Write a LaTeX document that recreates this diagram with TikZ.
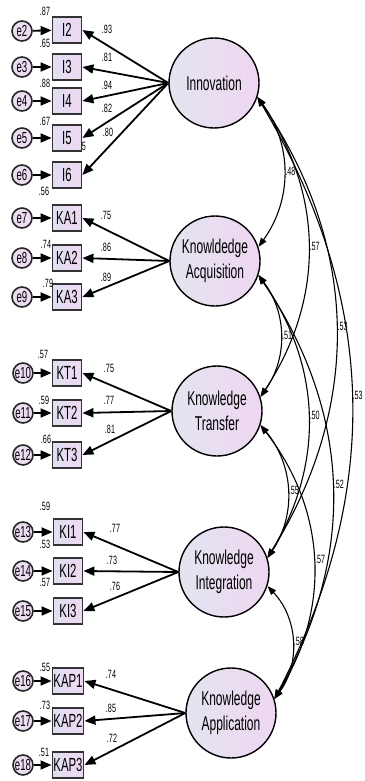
\documentclass[tikz,border=0pt]{standalone}
\usepackage{xcolor}
\usepackage{fontspec}
\setmainfont{Liberation Sans}[FakeStretch=0.6]
\usepackage{tikz}
\usetikzlibrary{arrows.meta,shapes,positioning,calc}

\definecolor{latleft}{RGB}{226,229,240}
\definecolor{latright}{RGB}{239,214,241}
\definecolor{boxleft}{RGB}{226,222,242}
\definecolor{boxright}{RGB}{238,216,242}
\definecolor{errfill}{RGB}{236,221,242}

\tikzset{
    lat/.style={circle, draw=black, line width=1.4pt, minimum size=90pt, inner sep=0pt,
        left color=latleft, right color=latright, align=center, font=\fontsize{20}{25}\selectfont},
    ind/.style={rectangle, draw=black!80, line width=1.8pt, minimum width=29pt, minimum height=26pt,
        inner sep=1pt, left color=boxleft, right color=boxright, font=\fontsize{19}{19}\selectfont},
    err/.style={circle, draw=black!85, line width=1.6pt, minimum size=20pt, inner sep=0pt,
        fill=errfill, font=\fontsize{16}{16}\selectfont},
    num/.style={font=\fontsize{12}{12}\selectfont, inner sep=0pt, text=black},
    load/.style={line width=1.8pt, -{Triangle[length=11pt,width=9pt]}},
    res/.style={line width=1.8pt, -{Triangle[length=11pt,width=9pt]}},
    cov/.style={line width=1.1pt, {Triangle[length=9pt,width=6.5pt]}-{Triangle[length=9pt,width=6.5pt]}}
}

\begin{document}
\begin{tikzpicture}[x=1pt, y=-1pt]
    \useasboundingbox (0,0) rectangle (364,781);

    % latent factors
    \node[lat] (inn) at (214,83) {Innovation};
    \node[lat] (ka) at (215,261) {Knowldedge\\Acquisition};
    \node[lat] (kt) at (217,411) {Knowledge\\Transfer};
    \node[lat] (ki) at (224,572) {Knowledge\\Integration};
    \node[lat] (kap) at (231,713) {Knowledge\\Application};

    % indicators
    \node[ind] (i2) at (67,30) {I2};
    \node[ind] (i3) at (67,67) {I3};
    \node[ind] (i4) at (67,101) {I4};
    \node[ind] (i5) at (67,138) {I5};
    \node[ind] (i6) at (67,175) {I6};
    \node[ind] (ka1) at (67,218) {KA1};
    \node[ind] (ka2) at (67,258) {KA2};
    \node[ind] (ka3) at (67,297) {KA3};
    \node[ind] (kt1) at (67,373) {KT1};
    \node[ind] (kt2) at (67,413) {KT2};
    \node[ind] (kt3) at (67,455) {KT3};
    \node[ind] (ki1) at (68,532) {KI1};
    \node[ind] (ki2) at (68,571) {KI2};
    \node[ind] (ki3) at (68,611) {KI3};
    \node[ind] (kap1) at (68,681) {KAP1};
    \node[ind] (kap2) at (68,721) {KAP2};
    \node[ind] (kap3) at (68,765) {KAP3};

    % errors
    \node[err] (e2) at (22,31) {e2};
    \node[err] (e3) at (22,67) {e3};
    \node[err] (e4) at (22,101) {e4};
    \node[err] (e5) at (22,138) {e5};
    \node[err] (e6) at (22,175) {e6};
    \node[err] (e7) at (22,218) {e7};
    \node[err] (e8) at (22,258) {e8};
    \node[err] (e9) at (22,297) {e9};
    \node[err] (e10) at (23,373) {e10};
    \node[err] (e11) at (23,413) {e11};
    \node[err] (e12) at (23,455) {e12};
    \node[err] (e13) at (23,532) {e13};
    \node[err] (e14) at (23,571) {e14};
    \node[err] (e15) at (23,611) {e15};
    \node[err] (e16) at (23,681) {e16};
    \node[err] (e17) at (23,721) {e17};
    \node[err] (e18) at (23,765) {e18};

    \path[res] (e2) edge (i2) (e3) edge (i3) (e4) edge (i4) (e5) edge (i5) (e6) edge (i6);
    \path[res] (e7) edge (ka1) (e8) edge (ka2) (e9) edge (ka3);
    \path[res] (e10) edge (kt1) (e11) edge (kt2) (e12) edge (kt3);
    \path[res] (e13) edge (ki1) (e14) edge (ki2) (e15) edge (ki3);
    \path[res] (e16) edge (kap1) (e17) edge (kap2) (e18) edge (kap3);

    % loadings
    \path[load] (inn.west) edge (i2.east) (inn.west) edge (i3.east) (inn.west) edge (i4.east)
        (inn.west) edge (i5.east) (inn.west) edge (i6.east);
    \path[load] (ka.west) edge (ka1.east) (ka.west) edge (ka2.east) (ka.west) edge (ka3.east);
    \path[load] (kt.west) edge (kt1.east) (kt.west) edge (kt2.east) (kt.west) edge (kt3.east);
    \path[load] (ki.west) edge (ki1.east) (ki.west) edge (ki2.east) (ki.west) edge (ki3.east);
    \path[load] (kap.west) edge (kap1.east) (kap.west) edge (kap2.east) (kap.west) edge (kap3.east);

    \node[num] (w2) at (107,29) {.93};
    \node[num] (w3) at (107,57) {.81};
    \node[num] (w4) at (107,85) {.94};
    \node[num] (w5) at (107,108) {.82};
    \node[num] (w6) at (108,132) {.80};
    \node[num] (w7) at (106,215) {.75};
    \node[num] (w8) at (106,247) {.86};
    \node[num] (w9) at (106,277) {.89};
    \node[num] (w10) at (109,368) {.75};
    \node[num] (w11) at (109,400) {.77};
    \node[num] (w12) at (110,429) {.81};
    \node[num] (w13) at (115,528) {.77};
    \node[num] (w14) at (112,560) {.73};
    \node[num] (w15) at (115,586) {.76};
    \node[num] (w16) at (111,674) {.74};
    \node[num] (w17) at (111,708) {.85};
    \node[num] (w18) at (112,738) {.72};

    % squared multiple correlations
    \node[num] (r2) at (45,11) {.87};
    \node[num] (r3) at (45,43) {.65};
    \node[num] (r4) at (45,83) {.88};
    \node[num] (r5) at (45,121) {.67};
    \node[num] (r6) at (84,146) {5};
    \node[num] (r7) at (44,191) {.56};
    \node[num] (r8) at (46,244) {.74};
    \node[num] (r9) at (48,283) {.79};
    \node[num] (r10) at (43,354) {.57};
    \node[num] (r11) at (44,400) {.59};
    \node[num] (r12) at (46,439) {.66};
    \node[num] (r13) at (45,506) {.59};
    \node[num] (r14) at (45,544) {.53};
    \node[num] (r15) at (45,582) {.57};
    \node[num] (r16) at (45,667) {.55};
    \node[num] (r17) at (45,705) {.73};
    \node[num] (r18) at (44,752) {.51};

    % covariances
    \draw[cov] (inn.-18) to[bend left=36] node[num, anchor=west, xshift=1pt] (c1) {.48} (ka.18);
    \draw[cov] (inn.-18) to[bend left=34] node[num, anchor=west, xshift=1pt] (c2) {.57} (kt.18);
    \draw[cov] (inn.-18) to[bend left=33] node[num, anchor=west, xshift=1pt] (c3) {.53} (ki.18);
    \draw[cov] (inn.-18) to[bend left=29] node[num, anchor=west, xshift=0.5pt] (c4) {.53} (kap.18);
    \draw[cov] (ka.-18) to[bend left=36] node[num, anchor=west, xshift=1pt] (c5) {.51} (kt.18);
    \draw[cov] (ka.-18) to[bend left=33] node[num, anchor=west, xshift=1pt] (c6) {.50} (ki.18);
    \draw[cov] (ka.-18) to[bend left=32] node[num, anchor=west, xshift=1pt] (c7) {.52} (kap.18);
    \draw[cov] (kt.-18) to[bend left=37] node[num, anchor=west, xshift=1pt] (c8) {.55} (ki.18);
    \draw[cov] (kt.-18) to[bend left=35] node[num, anchor=west, xshift=1pt] (c9) {.57} (kap.18);
    \draw[cov] (ki.-18) to[bend left=40] node[num, anchor=west, xshift=1pt] (c10) {.58} (kap.18);
\end{tikzpicture}
\end{document}
